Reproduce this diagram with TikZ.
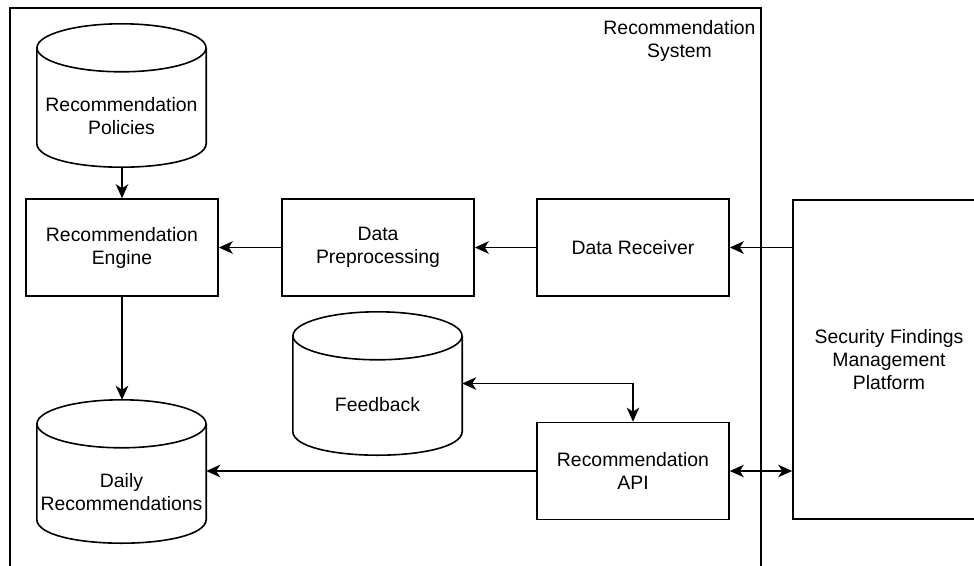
\documentclass[tikz,border=0pt]{standalone}
\usepackage{fontspec}
\setmainfont{Liberation Sans}
\usetikzlibrary{arrows.meta,calc}

\tikzset{
  stroke/.style={line width=1.6pt, draw=black},
  head/.tip={Stealth[length=14pt,width=12.5pt,inset=4pt]},
  tip/.style={-head},
  bothtips/.style={head-head},
  label text/.style={font=\fontsize{19.4}{23}\selectfont, align=center, text=black},
  procbox/.style={stroke, label text, rectangle, minimum width=192pt, minimum height=97pt, inner sep=0pt},
  bigbox/.style={stroke, label text, rectangle, minimum width=192pt, minimum height=319pt, inner sep=0pt},
  % body of a database cylinder: the part below the rim of its top ellipse
  dbbody/.style={label text, rectangle, minimum width=169pt, minimum height=101pt, inner sep=0pt},
}

% outline of a database cylinder around a dbbody node
\newcommand\dbcylinder[1]{%
  \path (#1.north) ++(0,-18) coordinate (#1-c)
        (#1.north) ++(0,-42) coordinate (#1-top);
  \draw[stroke] (#1-c) ellipse [x radius=84.5pt, y radius=24pt];
  \draw[stroke] (#1-c -| #1.west) -- ($(#1.south west)+(0,-24)$)
     .. controls ($(#1.south west)+(0,8)$) and ($(#1.south east)+(0,8)$) ..
     ($(#1.south east)+(0,-24)$) -- (#1-c -| #1.east);
}

\begin{document}
\begin{tikzpicture}[x=1pt, y=-1pt]
  \useasboundingbox (0,0) rectangle (974,565);
  \clip (0,0) rectangle (974,565);
  \fill[white] (0,0) rectangle (974,565);

  % system boundary
  \draw[stroke] (10,8) rectangle (761,600);
  \node[label text] (systitle) at (679.5,41) {Recommendation\\System};

  % data stores
  \node[dbbody] (policies) at (121.5,116.5) {Recommendation\\Policies};
  \node[dbbody] (feedback) at (377.5,404.5) {Feedback};
  \node[dbbody] (daily) at (121.5,492.5) {Daily\\Recommendations};
  \dbcylinder{policies}
  \dbcylinder{feedback}
  \dbcylinder{daily}

  % processing components
  \node[procbox] (engine) at (122,247.5) {Recommendation\\Engine};
  \node[procbox] (prep) at (378,247.5) {Data\\Preprocessing};
  \node[procbox] (receiver) at (633,247.5) {Data Receiver};
  \node[procbox] (api) at (633,471) {Recommendation\\API};

  % external platform
  \node[bigbox] (platform) at (889,359.5) {Security Findings\\Management\\Platform};

  % data flow
  \draw[stroke, tip] (policies.south -| engine.north) -- (engine.north);
  \draw[stroke, tip] (platform.west |- receiver.east) -- (receiver.east);
  \draw[stroke, tip] (receiver.west) -- (prep.east);
  \draw[stroke, tip] (prep.west) -- (engine.east);
  \draw[stroke, tip] (engine.south) -- (engine.south |- daily-top);
  \draw[stroke, tip] (api.west) -- (api.west -| daily.east);
  \draw[stroke, bothtips] (api.east) -- (api.east -| platform.west);
  \draw[stroke, bothtips] ([yshift=21pt]feedback.east) -| (api.north);
\end{tikzpicture}
\end{document}
